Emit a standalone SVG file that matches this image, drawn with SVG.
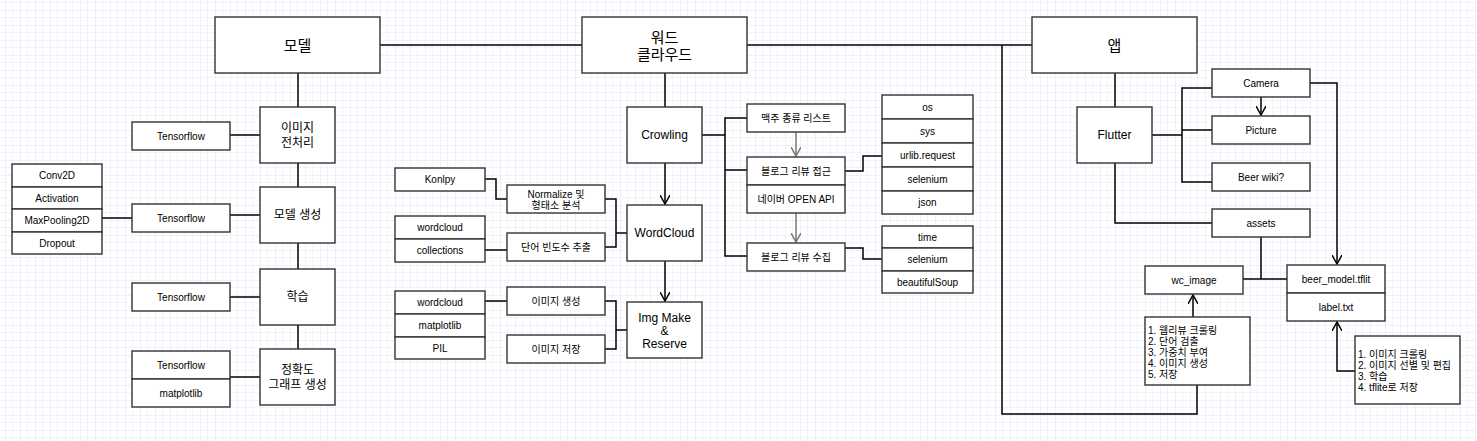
<svg xmlns="http://www.w3.org/2000/svg" width="1477" height="441" viewBox="0 0 1477 441">
<defs>
<pattern id="grid" x="5" y="10" width="15" height="15" patternUnits="userSpaceOnUse">
<path d="M7.5 0V15M0 7.5H15" stroke="#f3f3fc" stroke-width="1" fill="none"/>
<path d="M0 0V15M0 0H15" stroke="#e2e2fb" stroke-width="1" fill="none"/>
</pattern>
<marker id="arr" viewBox="0 0 10 10" refX="9" refY="5" markerWidth="10" markerHeight="10" markerUnits="userSpaceOnUse" orient="auto">
<path d="M0 0L9 5L0 10" fill="none" stroke="#000" stroke-width="1.5"/>
</marker>
<marker id="arrg" viewBox="0 0 10 10" refX="9" refY="5" markerWidth="10" markerHeight="10" markerUnits="userSpaceOnUse" orient="auto">
<path d="M0 0L9 5L0 10" fill="none" stroke="#777" stroke-width="1.5"/>
</marker>
</defs>
<style>
rect.b{fill:#fff;stroke:#333;stroke-width:1.4}
text{font-family:"Liberation Sans","Noto Sans CJK KR",sans-serif;fill:#000;text-anchor:middle;dominant-baseline:central}
.l{font-size:15px}
.m{font-size:12px}
.s{font-size:10px}
.n{font-size:10px;text-anchor:start;dominant-baseline:auto}
.c path{fill:none;stroke:#000;stroke-width:1.5}
.c path.g{stroke:#777}
</style>
<rect width="1477" height="441" fill="#fff"/>
<rect width="1477" height="441" fill="url(#grid)"/>

<g class="c" id="connectors">
<path d="M380 45H582M747 45H1032"/>
<path d="M298 73V107M298 163V187M298 243V269M298 325V349"/>
<path d="M230 135H260M102 218H132M230 215H260M230 297H260M230 377H260"/>
<path d="M665 73V107"/>
<path d="M665 163V204" marker-end="url(#arr)"/>
<path d="M665 261V301" marker-end="url(#arr)"/>
<path d="M485 179H496V199H507"/>
<path d="M485 250H507"/>
<path d="M605 199H616V247H605M616 233H627"/>
<path d="M485 301H507"/>
<path d="M605 301H616V349H605M616 330H627"/>
<path d="M702 135H725M747 118H725V256H747M725 170H747"/>
<path class="g" d="M796 132V156" marker-end="url(#arrg)"/>
<path class="g" d="M796 213V242" marker-end="url(#arrg)"/>
<path d="M845 171H863V156H882"/>
<path d="M845 248H863V259H882"/>
<path d="M1115 73V107"/>
<path d="M1152 135H1182M1212 88H1182V182H1212M1182 130H1212"/>
<path d="M1261 97V115" marker-end="url(#arr)"/>
<path d="M1310 83H1337V264" marker-end="url(#arr)"/>
<path d="M1115 163V223H1212"/>
<path d="M1261 237V279M1243 279H1287"/>
<path d="M1193 317V295" marker-end="url(#arr)"/>
<path d="M1355 371H1337V322" marker-end="url(#arr)"/>
<path d="M1002 45V414H1197V385"/>
</g>

<g id="model"><rect class="b" x="215" y="17" width="165" height="56"/><text class="l" x="297.5" y="45">모델</text></g>
<g id="preprocess"><rect class="b" x="260" y="107" width="75" height="56"/><text class="m" x="297.5" y="128">이미지</text><text class="m" x="297.5" y="143">전처리</text></g>
<g id="tf1"><rect class="b" x="132" y="122" width="98" height="28"/><text class="s" x="181" y="136">Tensorflow</text></g>
<g id="layers">
<rect class="b" x="12" y="164" width="90" height="23"/><text class="s" x="57" y="175.5">Conv2D</text>
<rect class="b" x="12" y="187" width="90" height="22"/><text class="s" x="57" y="198">Activation</text>
<rect class="b" x="12" y="209" width="90" height="23"/><text class="s" x="57" y="220.5">MaxPooling2D</text>
<rect class="b" x="12" y="232" width="90" height="22"/><text class="s" x="57" y="243">Dropout</text>
</g>
<g id="build"><rect class="b" x="260" y="187" width="75" height="56"/><text class="m" x="297.5" y="215">모델 생성</text></g>
<g id="tf2"><rect class="b" x="132" y="204" width="98" height="28"/><text class="s" x="181" y="218">Tensorflow</text></g>
<g id="train"><rect class="b" x="260" y="269" width="75" height="56"/><text class="m" x="297.5" y="297">학습</text></g>
<g id="tf3"><rect class="b" x="132" y="283" width="98" height="28"/><text class="s" x="181" y="297">Tensorflow</text></g>
<g id="accuracy"><rect class="b" x="260" y="349" width="75" height="56"/><text class="m" x="297.5" y="370">정확도</text><text class="m" x="297.5" y="385">그래프 생성</text></g>
<g id="tf4"><rect class="b" x="132" y="351" width="98" height="28"/><text class="s" x="181" y="365">Tensorflow</text><rect class="b" x="132" y="379" width="98" height="28"/><text class="s" x="181" y="393">matplotlib</text></g>

<g id="wordcloud-root"><rect class="b" x="582" y="17" width="165" height="56"/><text class="l" x="664.5" y="37">워드</text><text class="l" x="664.5" y="54">클라우드</text></g>
<g id="crowling"><rect class="b" x="627" y="107" width="75" height="56"/><text class="m" x="664.5" y="135">Crowling</text></g>
<g id="wordcloud"><rect class="b" x="627" y="205" width="75" height="56"/><text class="m" x="664.5" y="233">WordCloud</text></g>
<g id="imgmake"><rect class="b" x="627" y="302" width="75" height="56"/><text class="m" x="664.5" y="318">Img Make</text><text class="m" x="664.5" y="331">&amp;</text><text class="m" x="664.5" y="344">Reserve</text></g>
<g id="konlpy"><rect class="b" x="395" y="168" width="90" height="23"/><text class="s" x="440" y="179.5" fill="#444">Konlpy</text></g>
<g id="normalize"><rect class="b" x="507" y="185" width="98" height="28"/><text class="s" x="556" y="194">Normalize 및</text><text class="s" x="556" y="205">형태소 분석</text></g>
<g id="wc-libs"><rect class="b" x="395" y="216" width="90" height="23"/><text class="s" x="440" y="227.5">wordcloud</text><rect class="b" x="395" y="239" width="90" height="23"/><text class="s" x="440" y="250.5">collections</text></g>
<g id="freq"><rect class="b" x="507" y="233" width="98" height="28"/><text class="s" x="556" y="247">단어 빈도수 추출</text></g>
<g id="img-libs"><rect class="b" x="395" y="291" width="90" height="23"/><text class="s" x="440" y="302.5">wordcloud</text><rect class="b" x="395" y="314" width="90" height="23"/><text class="s" x="440" y="325.5">matplotlib</text><rect class="b" x="395" y="337" width="90" height="22"/><text class="s" x="440" y="348">PIL</text></g>
<g id="imgcreate"><rect class="b" x="507" y="287" width="98" height="28"/><text class="s" x="556" y="301">이미지 생성</text></g>
<g id="imgsave"><rect class="b" x="507" y="335" width="98" height="28"/><text class="s" x="556" y="349">이미지 저장</text></g>
<g id="beerlist"><rect class="b" x="747" y="104" width="98" height="28"/><text class="s" x="796" y="118">맥주 종류 리스트</text></g>
<g id="blogaccess"><rect class="b" x="747" y="157" width="98" height="28"/><text class="s" x="796" y="171">블로그 리뷰 접근</text><rect class="b" x="747" y="185" width="98" height="28"/><text class="s" x="796" y="199">네이버 OPEN API</text></g>
<g id="blogcollect"><rect class="b" x="747" y="243" width="98" height="28"/><text class="s" x="796" y="257">블로그 리뷰 수집</text></g>
<g id="access-libs">
<rect class="b" x="882" y="95" width="91" height="24"/><text class="s" x="927.5" y="107">os</text>
<rect class="b" x="882" y="119" width="91" height="24"/><text class="s" x="927.5" y="131">sys</text>
<rect class="b" x="882" y="143" width="91" height="24"/><text class="s" x="927.5" y="155">urlib.request</text>
<rect class="b" x="882" y="167" width="91" height="24"/><text class="s" x="927.5" y="179">selenium</text>
<rect class="b" x="882" y="191" width="91" height="23"/><text class="s" x="927.5" y="202.5">json</text>
</g>
<g id="collect-libs">
<rect class="b" x="882" y="226" width="91" height="22"/><text class="s" x="927.5" y="237">time</text>
<rect class="b" x="882" y="248" width="91" height="23"/><text class="s" x="927.5" y="259.5">selenium</text>
<rect class="b" x="882" y="271" width="91" height="22"/><text class="s" x="927.5" y="282">beautifulSoup</text>
</g>

<g id="app"><rect class="b" x="1032" y="17" width="165" height="56"/><text class="l" x="1114.5" y="45">앱</text></g>
<g id="flutter"><rect class="b" x="1077" y="107" width="75" height="56"/><text class="m" x="1114.5" y="135">Flutter</text></g>
<g id="camera"><rect class="b" x="1212" y="69" width="98" height="28"/><text class="s" x="1261" y="83">Camera</text></g>
<g id="picture"><rect class="b" x="1212" y="116" width="98" height="28"/><text class="s" x="1261" y="130">Picture</text></g>
<g id="beerwiki"><rect class="b" x="1212" y="163" width="98" height="28"/><text class="s" x="1261" y="177">Beer wiki?</text></g>
<g id="assets"><rect class="b" x="1212" y="209" width="98" height="28"/><text class="s" x="1261" y="223">assets</text></g>
<g id="wcimage"><rect class="b" x="1145" y="266" width="98" height="28"/><text class="s" x="1194" y="280">wc_image</text></g>
<g id="beermodel"><rect class="b" x="1287" y="265" width="98" height="28"/><text class="s" x="1336" y="279">beer_model.tflit</text><rect class="b" x="1287" y="293" width="98" height="28"/><text class="s" x="1336" y="307">label.txt</text></g>
<g id="wc-steps"><rect class="b" x="1145" y="317" width="105" height="68"/>
<text class="n" x="1148" y="334">1. 웹리뷰 크롤링</text>
<text class="n" x="1148" y="345">2. 단어 검출</text>
<text class="n" x="1148" y="356">3. 가중치 부여</text>
<text class="n" x="1148" y="367">4. 이미지 생성</text>
<text class="n" x="1148" y="378">5. 저장</text>
</g>
<g id="model-steps"><rect class="b" x="1355" y="336" width="105" height="68"/>
<text class="n" x="1358" y="358">1. 이미지 크롤링</text>
<text class="n" x="1358" y="369">2. 이미지 선별 및 편집</text>
<text class="n" x="1358" y="380">3. 학습</text>
<text class="n" x="1358" y="391">4. tflite로 저장</text>
</g>
</svg>
